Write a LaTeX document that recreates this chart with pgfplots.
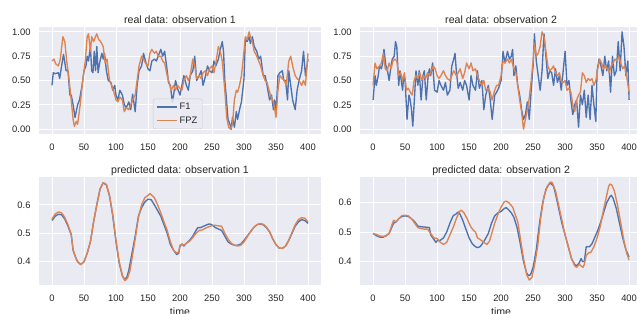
\documentclass[border=0pt]{standalone}
\usepackage{fontspec}
\setmainfont{Liberation Sans}
\usepackage{pgfplots}
\pgfplotsset{compat=1.18}
\definecolor{sbblue}{HTML}{4C72B0}
\definecolor{sborange}{HTML}{DD8452}
\definecolor{sbbg}{HTML}{EAEAF2}
\definecolor{sbtext}{HTML}{262626}
\pgfplotsset{
 sbstyle/.style={
  scale only axis,
  width=281.6bp, height=107bp,
  xmin=-20, xmax=420,
  axis background/.style={fill=sbbg},
  axis line style={draw=none},
  major tick length=0pt,
  grid=major,
  major grid style={white, line width=1bp},
  xtick={0,50,...,400},
  tick label style={font=\fontsize{9.4bp}{11bp}\selectfont, text=sbtext},
  xticklabel style={anchor=north, inner sep=0pt, yshift=-9.6bp},
  yticklabel style={anchor=east, inner sep=0pt, xshift=-8.5bp},
  /pgf/number format/assume math mode=true,
  title style={font=\fontsize{10.6bp}{12bp}\selectfont, text=sbtext, anchor=base, at={(0.5,1)}, yshift=-2.2bp, inner sep=0pt},
  every axis plot/.append style={line width=1.35bp, mark=none, line join=round},
 },
 toprow/.style={ymin=-0.05, ymax=1.05, ytick={0,0.25,0.5,0.75,1},
  yticklabel style={/pgf/number format/.cd, fixed, fixed zerofill, precision=2}},
 botrow/.style={height=108bp, ytick={0.4,0.5,0.6},
  yticklabel style={/pgf/number format/.cd, fixed, fixed zerofill, precision=1},
  xlabel={time},
  x label style={font=\fontsize{10.6bp}{12bp}\selectfont, text=sbtext, at={(axis description cs:0.5,0)}, anchor=north, yshift=-22.7bp, inner sep=0pt}},
}
\begin{document}
\begin{tikzpicture}
\path[use as bounding box] (0,0) rectangle (637bp,314bp);
% top left
\begin{axis}[sbstyle, toprow, at={(39.2bp,180bp)}, anchor=south west,
  title={real data: observation 1},
  legend style={at={(0.404,0.047)}, anchor=south west, fill=sbbg, fill opacity=0.8, text opacity=1, draw=black!20, rounded corners=2bp, font=\fontsize{9.4bp}{11bp}\selectfont, text=sbtext, inner xsep=3bp, inner ysep=2bp, row sep=2bp, cells={anchor=west}, /tikz/every even column/.append style={column sep=5bp}},
  legend image code/.code={\draw[#1, line width=1.35bp] (0bp,0bp) -- (20bp,0bp);}]
\addplot[sbblue] coordinates {(0,0.45)(2,0.58)(5,0.57)(10,0.58)(12,0.52)(15,0.65)(18,0.77)(22,0.60)(25,0.60)(28,0.35)(30,0.35)(33,0.25)(36,0.12)(40,0.25)(43,0.30)(47,0.45)(50,0.60)(53,0.65)(55,0.75)(57,0.70)(60,0.85)(62,0.60)(64,0.58)(66,0.80)(68,0.60)(70,0.85)(72,0.58)(75,0.70)(78,0.78)(80,0.72)(82,0.78)(85,0.60)(88,0.50)(92,0.48)(95,0.40)(98,0.45)(100,0.35)(103,0.30)(106,0.40)(110,0.35)(113,0.25)(116,0.22)(120,0.28)(123,0.20)(126,0.36)(130,0.18)(133,0.45)(136,0.60)(140,0.65)(143,0.78)(146,0.70)(150,0.62)(153,0.60)(156,0.70)(160,0.72)(163,0.70)(166,0.75)(170,0.82)(173,0.75)(176,0.80)(180,0.60)(182,0.48)(185,0.45)(188,0.28)(190,0.35)(193,0.50)(196,0.42)(200,0.35)(203,0.45)(206,0.55)(210,0.45)(213,0.40)(216,0.55)(220,0.60)(223,0.75)(226,0.50)(230,0.55)(233,0.60)(236,0.45)(240,0.55)(243,0.65)(246,0.60)(250,0.58)(253,0.70)(256,0.65)(260,0.72)(263,0.82)(266,0.90)(268,0.80)(270,0.50)(272,0.35)(275,0.10)(278,0.05)(280,0.00)(282,0.12)(285,0.02)(288,0.18)(290,0.10)(293,0.20)(296,0.28)(300,0.52)(302,0.92)(305,0.90)(308,0.95)(310,0.88)(313,0.95)(316,0.85)(320,0.80)(323,0.72)(326,0.75)(330,0.55)(333,0.55)(336,0.45)(340,0.30)(343,0.35)(346,0.20)(348,0.30)(350,0.15)(353,0.55)(356,0.58)(360,0.60)(362,0.50)(365,0.50)(368,0.30)(370,0.60)(373,0.45)(376,0.30)(380,0.20)(383,0.40)(386,0.50)(390,0.60)(393,0.80)(396,0.55)(400,0.72)};
\addlegendentry{F1}
\addplot[sborange] coordinates {(0,0.70)(3,0.72)(6,0.67)(10,0.65)(13,0.72)(17,0.95)(20,0.90)(23,0.70)(26,0.55)(30,0.30)(33,0.10)(35,0.03)(38,0.08)(40,0.05)(44,0.25)(48,0.50)(52,0.70)(55,0.95)(57,0.98)(60,0.80)(62,0.95)(65,0.90)(68,0.95)(70,0.98)(73,0.92)(76,0.90)(80,0.85)(83,0.68)(86,0.72)(88,0.60)(90,0.50)(93,0.45)(96,0.40)(100,0.30)(103,0.28)(106,0.33)(110,0.30)(113,0.18)(116,0.22)(120,0.20)(123,0.25)(126,0.30)(130,0.35)(133,0.50)(136,0.65)(140,0.75)(143,0.72)(146,0.68)(150,0.65)(153,0.78)(156,0.82)(160,0.78)(163,0.80)(166,0.75)(170,0.75)(173,0.70)(176,0.68)(180,0.55)(183,0.48)(186,0.40)(190,0.45)(193,0.40)(196,0.45)(200,0.42)(203,0.40)(206,0.50)(210,0.55)(213,0.50)(216,0.55)(220,0.72)(223,0.65)(226,0.52)(230,0.55)(233,0.52)(236,0.58)(240,0.60)(243,0.55)(246,0.62)(250,0.65)(253,0.58)(256,0.68)(260,0.85)(263,0.80)(266,0.70)(270,0.40)(273,0.12)(276,0.02)(279,0.00)(282,0.05)(285,0.30)(288,0.40)(290,0.38)(293,0.45)(296,0.55)(300,0.80)(302,0.95)(305,0.92)(308,1.00)(310,0.95)(313,0.90)(316,0.80)(320,0.75)(323,0.70)(326,0.65)(330,0.55)(333,0.50)(336,0.48)(340,0.38)(343,0.32)(346,0.28)(348,0.20)(350,0.12)(353,0.40)(356,0.55)(360,0.52)(363,0.50)(366,0.45)(370,0.70)(373,0.75)(376,0.65)(380,0.55)(383,0.52)(386,0.50)(390,0.45)(393,0.50)(396,0.45)(400,0.78)};
\addlegendentry{FPZ}
\end{axis}
% top right
\begin{axis}[sbstyle, toprow, at={(360.3bp,180bp)}, anchor=south west,
  title={real data: observation 2}]
\addplot[sbblue] coordinates {(0,0.30)(3,0.55)(5,0.45)(8,0.55)(10,0.65)(13,0.62)(15,0.68)(17,0.82)(20,0.65)(22,0.62)(25,0.50)(28,0.65)(30,0.72)(33,0.75)(35,0.90)(37,0.85)(40,0.45)(42,0.60)(44,0.50)(46,0.40)(48,0.55)(50,0.50)(53,0.10)(56,0.35)(58,0.30)(60,0.20)(62,0.03)(64,0.25)(67,0.60)(70,0.45)(72,0.60)(75,0.30)(78,0.55)(80,0.60)(83,0.30)(86,0.55)(88,0.62)(90,0.55)(93,0.68)(96,0.40)(100,0.38)(103,0.50)(106,0.45)(110,0.40)(113,0.48)(116,0.35)(120,0.40)(123,0.65)(126,0.72)(128,0.78)(130,0.60)(133,0.42)(136,0.48)(140,0.40)(143,0.50)(146,0.45)(150,0.30)(153,0.55)(156,0.45)(160,0.40)(163,0.60)(166,0.42)(170,0.50)(173,0.20)(176,0.35)(180,0.45)(183,0.30)(186,0.10)(190,0.35)(193,0.38)(196,0.42)(200,0.50)(203,0.80)(206,0.68)(210,0.80)(213,0.72)(216,0.75)(218,0.82)(220,0.55)(223,0.65)(226,0.45)(229,0.35)(232,0.20)(235,0.10)(238,0.15)(241,0.28)(244,0.10)(247,0.40)(250,0.65)(252,0.98)(255,0.70)(258,0.55)(261,0.40)(264,0.60)(267,0.98)(270,0.75)(273,0.52)(276,0.60)(279,0.58)(282,0.45)(285,0.62)(288,0.48)(291,0.55)(294,0.40)(297,0.60)(300,0.80)(303,0.45)(306,0.50)(309,0.30)(312,0.15)(315,0.25)(318,0.30)(321,0.02)(324,0.35)(327,0.25)(330,0.40)(333,0.12)(336,0.35)(339,0.10)(342,0.45)(345,0.25)(348,0.08)(350,0.60)(353,0.72)(356,0.65)(359,0.55)(362,0.75)(365,0.60)(368,0.70)(371,0.38)(374,0.75)(377,0.55)(380,0.60)(383,0.90)(386,0.60)(389,1.00)(392,0.85)(395,0.55)(398,0.70)(400,0.30)};
\addplot[sborange] coordinates {(0,0.45)(3,0.68)(6,0.62)(10,0.65)(13,0.68)(16,0.78)(19,0.62)(22,0.60)(25,0.68)(28,0.62)(31,0.70)(34,0.72)(37,0.70)(40,0.55)(43,0.58)(46,0.50)(49,0.58)(52,0.40)(55,0.42)(58,0.38)(61,0.35)(64,0.50)(67,0.55)(70,0.52)(73,0.58)(76,0.50)(79,0.55)(82,0.52)(85,0.58)(88,0.55)(91,0.60)(94,0.65)(97,0.62)(100,0.55)(103,0.52)(106,0.55)(110,0.60)(113,0.55)(116,0.52)(120,0.50)(123,0.55)(126,0.60)(130,0.55)(133,0.58)(136,0.62)(140,0.52)(143,0.58)(146,0.68)(150,0.62)(153,0.68)(156,0.60)(160,0.62)(163,0.55)(166,0.50)(170,0.45)(173,0.50)(176,0.40)(180,0.42)(183,0.38)(186,0.30)(190,0.40)(193,0.45)(196,0.45)(200,0.55)(203,0.70)(206,0.68)(210,0.72)(213,0.68)(216,0.72)(220,0.62)(223,0.58)(226,0.45)(229,0.30)(232,0.18)(235,0.00)(238,0.10)(241,0.20)(244,0.32)(247,0.50)(250,0.70)(252,0.88)(255,0.75)(258,0.78)(261,0.85)(264,1.00)(267,0.95)(270,0.80)(273,0.65)(276,0.60)(279,0.62)(282,0.65)(285,0.58)(288,0.55)(291,0.58)(294,0.50)(297,0.48)(300,0.50)(303,0.40)(306,0.42)(309,0.38)(312,0.25)(315,0.18)(318,0.30)(321,0.35)(324,0.38)(327,0.58)(330,0.55)(333,0.48)(336,0.52)(339,0.50)(342,0.52)(345,0.45)(348,0.50)(351,0.62)(354,0.72)(357,0.68)(360,0.62)(363,0.65)(366,0.62)(369,0.58)(372,0.65)(375,0.68)(378,0.72)(381,0.70)(384,0.75)(387,0.68)(390,0.62)(393,0.65)(396,0.55)(400,0.38)};
\end{axis}
% bottom left
\begin{axis}[sbstyle, botrow, at={(39.2bp,29bp)}, anchor=south west,
  ymin=0.318, ymax=0.698, title={predicted data: observation 1}]
\addplot[sbblue] coordinates {(0,0.545)(5,0.56)(10,0.567)(15,0.565)(20,0.55)(25,0.525)(30,0.495)(33,0.44)(37,0.415)(40,0.40)(45,0.39)(50,0.40)(55,0.43)(60,0.47)(65,0.54)(70,0.60)(75,0.655)(80,0.678)(85,0.67)(90,0.63)(95,0.56)(100,0.47)(105,0.395)(110,0.35)(113,0.338)(117,0.345)(120,0.37)(125,0.43)(130,0.49)(135,0.56)(140,0.59)(145,0.61)(150,0.62)(155,0.618)(160,0.60)(165,0.58)(170,0.56)(175,0.53)(180,0.50)(185,0.46)(190,0.44)(195,0.425)(198,0.43)(200,0.455)(203,0.462)(206,0.455)(210,0.465)(215,0.475)(220,0.49)(225,0.51)(228,0.52)(232,0.52)(237,0.525)(242,0.53)(246,0.533)(250,0.53)(255,0.52)(260,0.515)(265,0.51)(270,0.49)(275,0.47)(280,0.462)(285,0.458)(290,0.458)(295,0.462)(300,0.475)(305,0.49)(310,0.505)(315,0.52)(320,0.53)(325,0.533)(330,0.53)(335,0.52)(340,0.505)(345,0.48)(350,0.46)(355,0.448)(360,0.447)(365,0.455)(370,0.475)(375,0.50)(380,0.525)(385,0.54)(390,0.548)(395,0.545)(400,0.535)};
\addplot[sborange] coordinates {(0,0.55)(5,0.568)(10,0.575)(15,0.572)(20,0.556)(25,0.53)(30,0.497)(33,0.442)(37,0.415)(40,0.40)(45,0.39)(50,0.40)(55,0.43)(60,0.47)(65,0.54)(70,0.60)(75,0.655)(80,0.678)(85,0.672)(90,0.632)(95,0.565)(100,0.475)(105,0.40)(110,0.352)(114,0.333)(118,0.342)(122,0.37)(126,0.425)(130,0.48)(135,0.555)(140,0.60)(145,0.625)(150,0.633)(153,0.64)(157,0.632)(160,0.625)(165,0.60)(170,0.572)(175,0.54)(180,0.51)(185,0.47)(190,0.44)(195,0.43)(198,0.435)(200,0.458)(203,0.462)(206,0.458)(210,0.465)(215,0.472)(220,0.485)(225,0.50)(230,0.51)(235,0.512)(240,0.518)(245,0.523)(250,0.527)(255,0.528)(260,0.526)(265,0.525)(270,0.50)(275,0.48)(280,0.465)(285,0.458)(290,0.455)(295,0.458)(300,0.47)(305,0.487)(310,0.505)(315,0.52)(320,0.53)(325,0.534)(330,0.532)(335,0.522)(340,0.505)(345,0.48)(350,0.46)(355,0.448)(360,0.447)(365,0.455)(370,0.476)(375,0.503)(380,0.53)(385,0.548)(390,0.555)(395,0.553)(400,0.54)};
\end{axis}
% bottom right
\begin{axis}[sbstyle, botrow, at={(360.3bp,29bp)}, anchor=south west,
  ymin=0.320, ymax=0.687, title={predicted data: observation 2}]
\addplot[sbblue] coordinates {(0,0.495)(5,0.488)(10,0.483)(15,0.482)(20,0.487)(25,0.495)(28,0.51)(32,0.53)(36,0.535)(40,0.545)(45,0.553)(50,0.555)(55,0.553)(60,0.545)(65,0.535)(70,0.52)(75,0.518)(80,0.517)(85,0.516)(88,0.515)(90,0.49)(95,0.475)(98,0.465)(100,0.47)(105,0.472)(110,0.48)(115,0.50)(120,0.53)(125,0.555)(130,0.562)(133,0.568)(136,0.56)(140,0.54)(145,0.51)(150,0.48)(155,0.46)(160,0.45)(163,0.447)(167,0.45)(170,0.458)(175,0.475)(180,0.495)(185,0.53)(190,0.555)(195,0.565)(200,0.57)(205,0.58)(208,0.583)(212,0.575)(216,0.565)(220,0.55)(225,0.515)(230,0.46)(235,0.40)(240,0.36)(243,0.352)(246,0.355)(250,0.38)(255,0.44)(260,0.53)(265,0.60)(270,0.645)(275,0.663)(278,0.665)(282,0.655)(285,0.63)(290,0.58)(295,0.53)(300,0.49)(305,0.45)(310,0.41)(315,0.39)(318,0.385)(322,0.395)(325,0.41)(327,0.40)(330,0.40)(333,0.45)(338,0.45)(342,0.46)(345,0.475)(350,0.50)(355,0.53)(360,0.565)(365,0.60)(370,0.62)(372,0.625)(375,0.615)(380,0.58)(385,0.53)(390,0.48)(395,0.44)(400,0.415)};
\addplot[sborange] coordinates {(0,0.495)(5,0.492)(10,0.487)(15,0.485)(20,0.487)(25,0.495)(28,0.515)(32,0.54)(36,0.535)(40,0.545)(45,0.556)(50,0.557)(55,0.555)(60,0.545)(65,0.53)(70,0.515)(75,0.512)(80,0.51)(85,0.51)(90,0.495)(95,0.48)(100,0.478)(103,0.47)(105,0.465)(110,0.458)(115,0.465)(120,0.49)(125,0.515)(130,0.545)(135,0.57)(138,0.574)(142,0.565)(147,0.545)(152,0.52)(157,0.505)(160,0.50)(163,0.48)(167,0.475)(170,0.47)(175,0.462)(178,0.458)(182,0.47)(186,0.50)(190,0.53)(195,0.56)(200,0.585)(205,0.603)(208,0.605)(212,0.60)(218,0.585)(222,0.56)(226,0.535)(230,0.48)(235,0.41)(240,0.355)(244,0.337)(248,0.345)(252,0.385)(257,0.45)(262,0.55)(267,0.62)(272,0.655)(277,0.67)(280,0.668)(285,0.64)(290,0.59)(295,0.54)(300,0.49)(305,0.45)(310,0.41)(315,0.385)(318,0.38)(322,0.39)(325,0.385)(328,0.38)(330,0.39)(333,0.42)(337,0.43)(340,0.43)(345,0.45)(350,0.48)(355,0.52)(360,0.575)(365,0.625)(368,0.655)(370,0.663)(373,0.66)(377,0.64)(382,0.59)(387,0.53)(392,0.47)(396,0.43)(400,0.405)};
\end{axis}
\end{tikzpicture}
\end{document}
